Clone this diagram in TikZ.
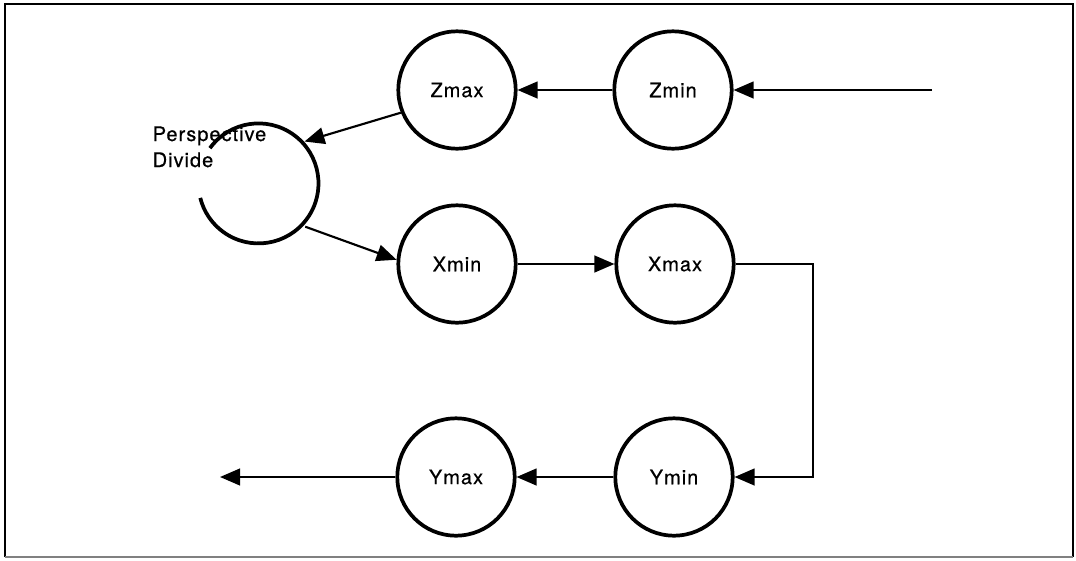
\documentclass[tikz,border=0pt]{standalone}
\usepackage{fontspec}
\setmainfont{TeX Gyre Heros}[LetterSpace=5,FakeBold=0.6]
\usetikzlibrary{arrows.meta}
\begin{document}
\begin{tikzpicture}[x=0.75pt,y=-0.75pt,
  stage/.style={circle,draw,line width=2.8pt,minimum size=88pt,inner sep=0pt,font=\fontsize{15pt}{18pt}\selectfont},
  conn/.style={line width=1.6pt,-{Triangle[length=15pt,width=12.5pt]}},
  plain/.style={line width=1.6pt}]
\useasboundingbox (0,0) rectangle (1076,561);
\draw[line width=1.6pt] (5,557) -- (5,4) -- (1073,4) -- (1073,557);
\draw[line width=0.8pt,gray] (5,557) -- (1073,557);
% nodes
\node[stage] (zmax) at (457,90) {Zmax};
\node[stage] (zmin) at (673,90) {Zmin};
\node[circle,minimum size=90pt,inner sep=0pt,outer sep=1.4pt] (persp) at (260,184.5) {};
\draw[line width=2.8pt] (persp.144) arc[start angle=144,end angle=-166,radius=45pt];
\node[anchor=base west,align=left,font=\fontsize{15pt}{19.5pt}\selectfont] (ptext) at (148,167) {Perspective\\Divide};
\node[stage] (xmin) at (457,264) {Xmin};
\node[stage] (xmax) at (675,264) {Xmax};
\node[stage] (ymin) at (674,477) {Ymin};
\node[stage] (ymax) at (456,477) {Ymax};
\coordinate (in) at (932,90);
\coordinate (bend) at (813,264);
\coordinate (out) at (220,477);
% connectors
\draw[conn] (in) -- (zmin);
\draw[conn] (zmin) -- (zmax);
\draw[conn] (zmax.202) -- (persp.44);
\draw[conn] (persp.-43) -- (xmin.176);
\draw[conn] (xmin) -- (xmax);
\draw[conn] (xmax.east) -- (bend) |- (ymin.east);
\draw[conn] (ymin) -- (ymax);
\draw[conn] (ymax) -- (out);
\end{tikzpicture}
\end{document}
